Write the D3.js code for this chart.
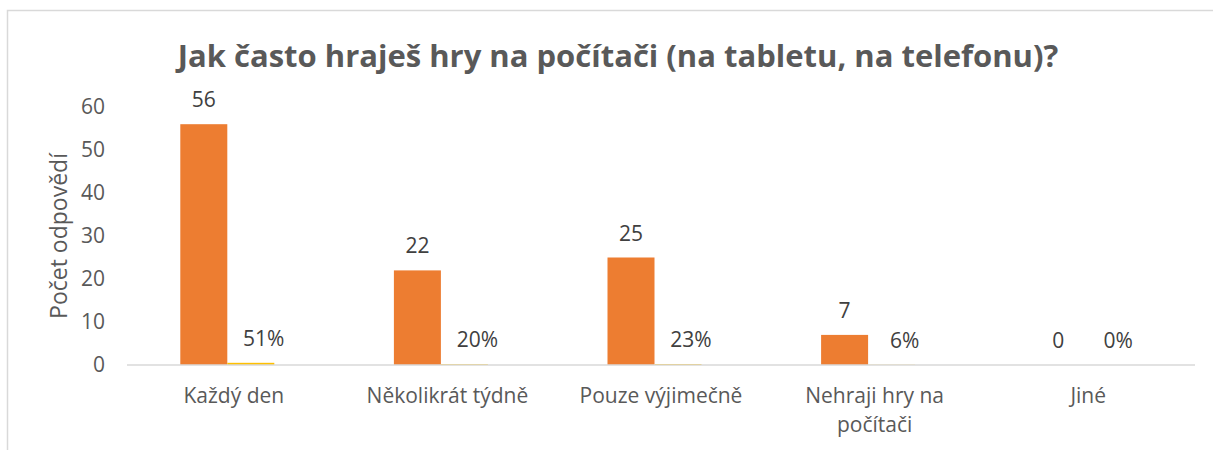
<!DOCTYPE html>
<html>
<head>
<meta charset="utf-8">
<script src="https://cdn.jsdelivr.net/npm/d3@7"></script>
<style>
  body { margin: 0; background: #fff; }
  svg { font-family: "Open Sans", sans-serif; }
</style>
</head>
<body>
<svg id="chart"></svg>
<script>
const categories = ["Každý den", "Několikrát týdně", "Pouze výjimečně", "Nehraji hry na počítači", "Jiné"];
const categoryLines = [["Každý den"], ["Několikrát týdně"], ["Pouze výjimečně"], ["Nehraji hry na", "počítači"], ["Jiné"]];
const counts = [56, 22, 25, 7, 0];
const shares = [0.51, 0.20, 0.23, 0.06, 0];
const yTicks = [0, 10, 20, 30, 40, 50, 60];
const seriesNames = ["count", "share"];
const seriesColors = ["#ED7D31", "#FFC000"];

const width = 1213, height = 450;
const margin = { left: 127, right: 18, top: 107, bottom: 85 };

const svg = d3.select("#chart").attr("width", width).attr("height", height);

// frame
svg.append("path")
   .attr("d", `M7.5,${height} V10.5 H${width}`)
   .attr("fill", "none")
   .attr("stroke", "#d9d9d9")
   .attr("stroke-width", 1.5);

svg.append("text")
   .attr("x", 618)
   .attr("y", 67)
   .attr("text-anchor", "middle")
   .attr("font-size", 31)
   .attr("font-weight", "bold")
   .attr("fill", "#595959")
   .text("Jak často hraješ hry na počítači (na tabletu, na telefonu)?");

const x0 = d3.scaleBand()
             .domain(categories)
             .range([margin.left, width - margin.right]);

// bars sit a little left of the category centre, as in the original
const groupW = 94, shift = -6.5;
const x1 = d3.scaleBand()
             .domain(seriesNames)
             .range([(x0.bandwidth() - groupW) / 2 + shift, (x0.bandwidth() + groupW) / 2 + shift]);
const labelShift = [0, 13];

const y = d3.scaleLinear()
            .domain([0, 60])
            .range([height - margin.bottom, margin.top]);

const yAxis = d3.axisLeft(y).tickValues(yTicks).tickSize(0).tickPadding(22);
svg.append("g")
   .attr("transform", `translate(${margin.left},0)`)
   .call(yAxis)
   .call(g => g.select(".domain").remove())
   .call(g => g.selectAll("text").attr("font-size", 21).attr("fill", "#595959").attr("font-family", "Open Sans"));

svg.append("text")
   .attr("transform", `translate(67,${y(30)}) rotate(-90)`)
   .attr("text-anchor", "middle")
   .attr("font-size", 23)
   .attr("fill", "#595959")
   .text("Počet odpovědí");

const groups = svg.selectAll(".grp")
   .data(categories)
   .enter()
   .append("g")
   .attr("class", "grp")
   .attr("transform", d => `translate(${x0(d)},0)`);

groups.each(function(c, i) {
  const g = d3.select(this);
  const vals = [counts[i], shares[i]];
  const labels = [String(counts[i]), Math.round(shares[i] * 100) + "%"];
  vals.forEach((v, s) => {
    g.append("rect")
     .attr("x", x1(seriesNames[s]))
     .attr("y", y(v))
     .attr("width", x1.bandwidth())
     .attr("height", y(0) - y(v))
     .attr("fill", seriesColors[s]);
    g.append("text")
     .attr("x", x1(seriesNames[s]) + x1.bandwidth() / 2 + labelShift[s])
     .attr("y", y(v) - 17)
     .attr("text-anchor", "middle")
     .attr("font-size", 21)
     .attr("fill", "#404040")
     .text(labels[s]);
  });
});

svg.append("line")
   .attr("x1", margin.left)
   .attr("x2", width - margin.right)
   .attr("y1", y(0))
   .attr("y2", y(0))
   .attr("stroke", "#d9d9d9")
   .attr("stroke-width", 1.5);

const xAxis = d3.axisBottom(x0).tickSize(0).tickPadding(0).tickFormat("");
const xg = svg.append("g")
   .attr("transform", `translate(0,${y(0)})`)
   .call(xAxis)
   .call(g => g.select(".domain").remove());

xg.selectAll(".tick").each(function(c, i) {
  const t = d3.select(this).append("text")
     .attr("text-anchor", "middle")
     .attr("font-size", 21)
     .attr("fill", "#595959")
     .attr("font-family", "Open Sans");
  categoryLines[i].forEach((line, k) => {
    t.append("tspan").attr("x", 0).attr("y", 38 + k * 29).text(line);
  });
});
</script>
</body>
</html>
